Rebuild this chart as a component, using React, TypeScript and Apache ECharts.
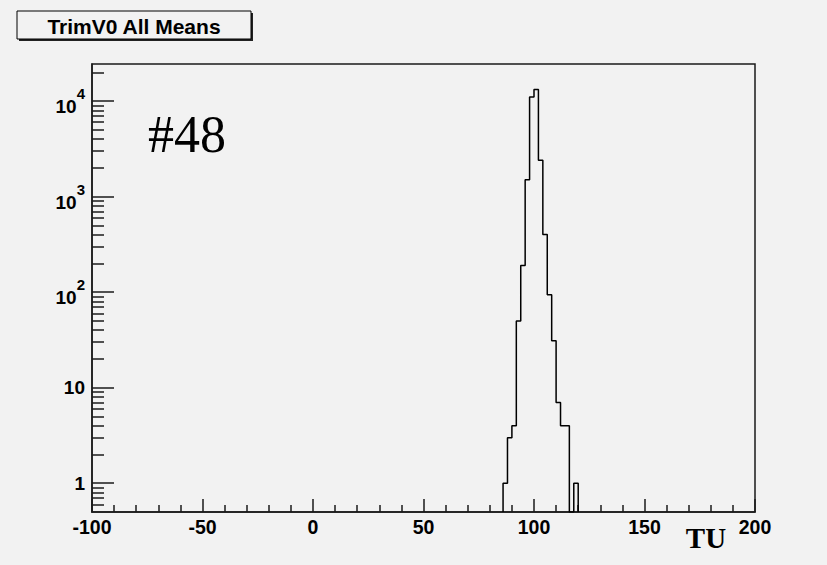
import React, { useEffect, useRef } from 'react';
import * as echarts from 'echarts';

const titleText = 'TrimV0 All Means';
const runLabel = '#48';
const xAxisName = 'TU';

const xMin = -100;
const xMax = 200;
const xInterval = 50;

const yMin = 0.5;
const yMax = 24400;
const yMajorTicks = [1, 10, 100, 1000, 10000];
const yMinorTicks = [
  0.6, 0.7, 0.8, 0.9,
  2, 3, 4, 5, 6, 7, 8, 9,
  20, 30, 40, 50, 60, 70, 80, 90,
  200, 300, 400, 500, 600, 700, 800, 900,
  2000, 3000, 4000, 5000, 6000, 7000, 8000, 9000,
  20000,
];

// histogram: bins of width 2 starting at 86
const binStart = 86;
const binWidth = 2;
const binCounts = [1, 3, 4, 50, 190, 1500, 11000, 13200, 2400, 400, 94, 31, 7, 4, 4, 0, 1];

const BG = '#f2f2f2';
const INK = '#1a1a1a';
const SANS = 'Liberation Sans, Arial, sans-serif';

export default function App() {
  const ref = useRef<HTMLDivElement>(null);

  useEffect(() => {
    if (!ref.current) return;
    const chart = echarts.init(ref.current, undefined, { renderer: 'svg' });

    const floor = (c: number) => (c > 0 ? c : yMin);
    const stepPoints: number[][] = [[binStart, yMin]];
    binCounts.forEach((c, i) => stepPoints.push([binStart + i * binWidth, floor(c)]));
    stepPoints.push([binStart + binCounts.length * binWidth, yMin]);

    const yLabel = (v: number) => {
      const e = Math.round(Math.log10(v));
      if (e === 0) return '{p|1}';
      if (e === 1) return '{p|10}';
      return '{h| }{b|10}{s|' + e + '}';
    };

    const logAxisBase = {
      type: 'log',
      logBase: 10,
      min: yMin,
      max: yMax,
      position: 'left',
      splitLine: { show: false },
    };

    chart.setOption({
      animation: false,
      backgroundColor: BG,
      grid: {
        left: 92,
        right: 72,
        top: 64,
        bottom: 53,
        show: true,
        borderColor: INK,
        borderWidth: 1.5,
        backgroundColor: 'transparent',
        containLabel: false,
        outerBoundsMode: 'none',
      },
      xAxis: {
        type: 'value',
        min: xMin,
        max: xMax,
        interval: xInterval,
        axisLine: { show: true, onZero: false, lineStyle: { color: INK, width: 1.5 } },
        axisTick: { show: true, inside: true, length: 13, lineStyle: { color: INK, width: 1.5 } },
        minorTick: { show: true, splitNumber: 5, length: 7, lineStyle: { color: INK, width: 1.5 } },
        axisLabel: {
          color: '#000',
          fontFamily: SANS,
          fontWeight: 'bold',
          fontSize: 19.5,
          margin: 5,
          showMinLabel: true,
          showMaxLabel: true,
        },
        splitLine: { show: false },
        minorSplitLine: { show: false },
      },
      yAxis: [
        {
          ...logAxisBase,
          axisLine: { show: true, onZero: false, lineStyle: { color: INK, width: 1.5 } },
          axisTick: { show: false },
          axisLabel: {
            customValues: yMajorTicks,
            formatter: yLabel,
            margin: 7,
            rich: {
              p: {
                color: '#000',
                fontFamily: SANS,
                fontWeight: 'bold',
                fontSize: 19,
                lineHeight: 19,
              },
              h: {
                fontSize: 1,
                lineHeight: 30,
                verticalAlign: 'middle',
              },
              b: {
                color: '#000',
                fontFamily: SANS,
                fontWeight: 'bold',
                fontSize: 19,
                lineHeight: 19,
                verticalAlign: 'bottom',
              },
              s: {
                color: '#000',
                fontFamily: SANS,
                fontWeight: 'bold',
                fontSize: 15,
                lineHeight: 24,
                verticalAlign: 'top',
              },
            },
          },
        },
        {
          ...logAxisBase,
          axisLine: { show: false, onZero: false },
          axisTick: {
            show: true,
            inside: true,
            length: 12,
            customValues: yMinorTicks,
            lineStyle: { color: INK, width: 1.5 },
          },
          axisLabel: { show: false },
        },
        {
          ...logAxisBase,
          axisLine: { show: false, onZero: false },
          axisTick: {
            show: true,
            inside: true,
            length: 22,
            customValues: yMajorTicks,
            lineStyle: { color: INK, width: 1.5 },
          },
          axisLabel: { show: false },
        },
      ],
      series: [
        {
          type: 'line',
          name: 'TrimV0 All Means',
          step: 'end',
          data: stepPoints,
          showSymbol: false,
          symbol: 'none',
          yAxisIndex: 0,
          lineStyle: { color: '#000', width: 1.5 },
          clip: true,
        },
      ],
      graphic: [
        {
          type: 'rect',
          shape: { x: 19, y: 13, width: 234, height: 28 },
          style: { fill: '#222' },
          silent: true,
        },
        {
          type: 'rect',
          shape: { x: 17, y: 11, width: 234, height: 28 },
          style: { fill: BG, stroke: '#000', lineWidth: 1 },
          silent: true,
        },
        {
          type: 'text',
          x: 134,
          y: 26,
          style: {
            text: titleText,
            fill: '#000',
            font: 'bold 21px "Liberation Sans", Arial, sans-serif',
            align: 'center',
            verticalAlign: 'middle',
          },
          silent: true,
        },
        {
          type: 'text',
          x: 148,
          y: 134,
          style: {
            text: runLabel,
            fill: '#000',
            font: '52px "Liberation Serif", "Times New Roman", serif',
            align: 'left',
            verticalAlign: 'middle',
          },
          silent: true,
        },
        {
          type: 'text',
          x: 706,
          y: 538,
          style: {
            text: xAxisName,
            fill: '#000',
            font: 'bold 29px "Liberation Serif", "Times New Roman", serif',
            align: 'center',
            verticalAlign: 'middle',
          },
          silent: true,
        },
      ],
    });

    return () => chart.dispose();
  }, []);

  return (
    <div
      ref={ref}
      style={{ position: 'fixed', left: 0, top: 0, width: 827, height: 565, background: BG }}
    />
  );
}
